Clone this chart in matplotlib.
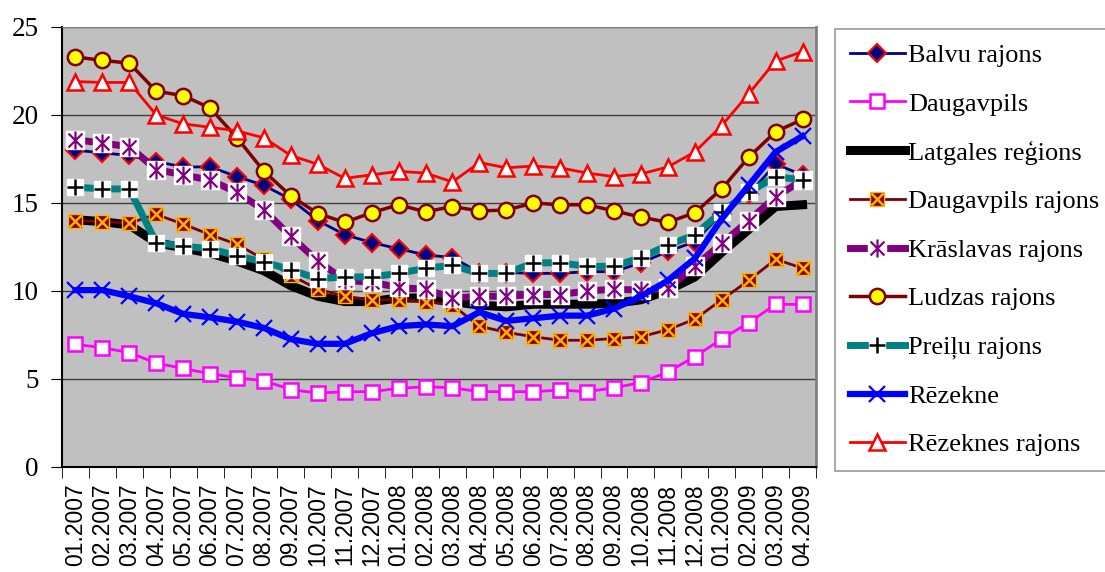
import matplotlib
matplotlib.use("Agg")
import matplotlib.pyplot as plt
import numpy as np
from matplotlib.path import Path

# months 01.2007 .. 04.2009
months = ['01.2007', '02.2007', '03.2007', '04.2007', '05.2007', '06.2007', '07.2007',
          '08.2007', '09.2007', '10.2007', '11.2007', '12.2007', '01.2008', '02.2008',
          '03.2008', '04.2008', '05.2008', '06.2008', '07.2008', '08.2008', '09.2008',
          '10.2008', '11.2008', '12.2008', '01.2009', '02.2009', '03.2009', '04.2009']

balvu = [18.0, 17.85, 17.7, 17.35, 17.05, 17.05, 16.5, 16.0, 15.2, 14.0, 13.2, 12.75, 12.4, 12.05,
         11.9, 11.05, 11.05, 11.0, 11.0, 11.1, 11.1, 11.6, 12.25, 12.8, 14.4, 15.5, 17.2, 16.6]
daugavpils = [6.97, 6.78, 6.5, 5.9, 5.6, 5.3, 5.07, 4.9, 4.4, 4.2, 4.28, 4.28, 4.47, 4.56,
              4.5, 4.28, 4.28, 4.28, 4.37, 4.28, 4.5, 4.8, 5.4, 6.27, 7.27, 8.2, 9.24, 9.24]
latgale = [14.05, 13.94, 13.75, 12.75, 12.45, 12.15, 11.7, 11.15, 10.3, 9.7, 9.4, 9.4, 9.6, 9.6,
           9.4, 9.2, 9.1, 9.25, 9.25, 9.25, 9.3, 9.5, 10.05, 10.8, 12.2, 13.5, 14.8, 14.9]
daug_raj = [14.0, 13.94, 13.85, 14.35, 13.8, 13.2, 12.65, 11.8, 10.9, 10.1, 9.7, 9.5, 9.5, 9.4,
            9.2, 8.0, 7.65, 7.4, 7.2, 7.2, 7.3, 7.4, 7.8, 8.4, 9.5, 10.6, 11.8, 11.3]
kraslava = [18.6, 18.4, 18.2, 16.9, 16.6, 16.3, 15.6, 14.6, 13.1, 11.7, 10.6, 10.5, 10.2, 10.1,
            9.6, 9.7, 9.7, 9.8, 9.8, 10.0, 10.1, 10.05, 10.15, 11.4, 12.7, 14.0, 15.35, 16.3]
ludza = [23.3, 23.1, 22.95, 21.35, 21.1, 20.4, 18.7, 16.8, 15.4, 14.4, 13.9, 14.45, 14.9, 14.5,
         14.8, 14.55, 14.6, 15.0, 14.9, 14.9, 14.55, 14.2, 13.9, 14.45, 15.8, 17.6, 19.05, 19.75]
preili = [15.9, 15.8, 15.8, 12.75, 12.55, 12.4, 12.0, 11.65, 11.2, 10.7, 10.8, 10.8, 11.0, 11.3,
          11.45, 11.0, 11.0, 11.6, 11.6, 11.4, 11.4, 11.9, 12.6, 13.2, 14.5, 15.6, 16.5, 16.3]
rezekne = [10.05, 10.05, 9.7, 9.3, 8.7, 8.5, 8.26, 7.9, 7.26, 7.0, 7.0, 7.6, 8.0, 8.1,
           8.0, 8.8, 8.3, 8.45, 8.6, 8.6, 9.0, 9.7, 10.6, 11.85, 14.1, 16.0, 17.9, 18.8]
rez_raj = [21.9, 21.85, 21.85, 20.0, 19.5, 19.3, 19.1, 18.7, 17.7, 17.2, 16.4, 16.6, 16.8, 16.7,
           16.2, 17.3, 17.0, 17.1, 17.0, 16.7, 16.5, 16.65, 17.05, 17.9, 19.4, 21.2, 23.07, 23.6]

x = np.arange(len(months))

# excel style star marker: x with a vertical bar
star = Path([(-1, -1), (1, 1), (-1, 1), (1, -1), (0, -1.3), (0, 1.3)],
            [Path.MOVETO, Path.LINETO, Path.MOVETO, Path.LINETO, Path.MOVETO, Path.LINETO])

fig = plt.figure(figsize=(11.05, 5.72), dpi=100)
ax = fig.add_axes([62 / 1105, 105 / 572, 754 / 1105, 440 / 572])
ax.set_facecolor('#C0C0C0')

handles = []
labels = []

h, = ax.plot(x, balvu, color='#000080', lw=2, marker='D', ms=9, mfc='#000080', mec='#FF0000', mew=1.5)
handles.append(h); labels.append('Balvu rajons')

h, = ax.plot(x, daugavpils, color='#FF00FF', lw=2, marker='s', ms=10, mfc='white', mec='#FF00FF', mew=1.8)
handles.append(h); labels.append('Daugavpils')

h, = ax.plot(x, latgale, color='black', lw=6.5)
handles.append(h); labels.append('Latgales reģions')

h1, = ax.plot(x, daug_raj, color='#800000', lw=2, marker='s', ms=10, mfc='#800000', mec='#FFB000', mew=1)
h2, = ax.plot(x, daug_raj, ls='none', marker='x', ms=9, mec='#FFB000', mew=1.8)
handles.append((h1, h2)); labels.append('Daugavpils rajons')

h1, = ax.plot(x, kraslava, color='#800080', lw=5, marker='s', ms=13, mfc='white', mec='white')
h2, = ax.plot(x, kraslava, ls='none', marker=star, ms=13, mfc='none', mec='#800080', mew=1.6)
handles.append((h1, h2)); labels.append('Krāslavas rajons')

h, = ax.plot(x, ludza, color='#800000', lw=2.5, marker='o', ms=11, mfc='#FFFF00', mec='#800000', mew=1.8)
handles.append(h); labels.append('Ludzas rajons')

h1, = ax.plot(x, preili, color='#008080', lw=5, marker='s', ms=11, mfc='white', mec='white')
h2, = ax.plot(x, preili, ls='none', marker='+', ms=11, mec='black', mew=1.8)
handles.append((h1, h2)); labels.append('Preiļu rajons')

h, = ax.plot(x, rezekne, color='#0000FF', lw=4.5, marker='x', ms=12, mec='#0000FF', mew=1.6)
handles.append(h); labels.append('Rēzekne')

h, = ax.plot(x, rez_raj, color='#FF0000', lw=2, marker='^', ms=11, mfc='white', mec='#FF0000', mew=1.8)
handles.append(h); labels.append('Rēzeknes rajons')

ax.set_xlim(-0.5, len(months) - 0.5)
ax.set_ylim(0, 25)
ax.set_yticks([0, 5, 10, 15, 20, 25])
ax.set_xticks(x)
ax.set_xticklabels(months, rotation=90, fontsize=16.5, family='Liberation Sans')
ax.set_xticks(np.arange(-0.5, len(months)), minor=True)
ax.tick_params(axis='x', which='major', length=0, pad=12)
ax.tick_params(axis='x', which='minor', length=8, direction='out', color='black')
ax.tick_params(axis='y', length=8, direction='out', pad=9, labelsize=19.5)
for t in ax.get_yticklabels():
    t.set_family('Liberation Serif')

ax.grid(axis='y', color='#404040', lw=1)
ax.set_axisbelow(True)
ax.spines['left'].set_linewidth(1.5)
ax.spines['bottom'].set_linewidth(1.5)
ax.spines['top'].set_color('#808080')
ax.spines['right'].set_color('#808080')
ax.spines['right'].set_linewidth(2)

leg = fig.legend(handles, labels, loc='upper left', bbox_to_anchor=(835 / 1105, 1 - 29 / 572),
                 borderaxespad=0, frameon=True, fancybox=False, edgecolor='#808080',
                 prop={'family': 'Liberation Serif', 'size': 19}, handlelength=2.1,
                 handletextpad=0.12, labelspacing=0.95, borderpad=0.55)
leg.get_frame().set_linewidth(1.2)

fig.savefig('out.png', dpi=100)
